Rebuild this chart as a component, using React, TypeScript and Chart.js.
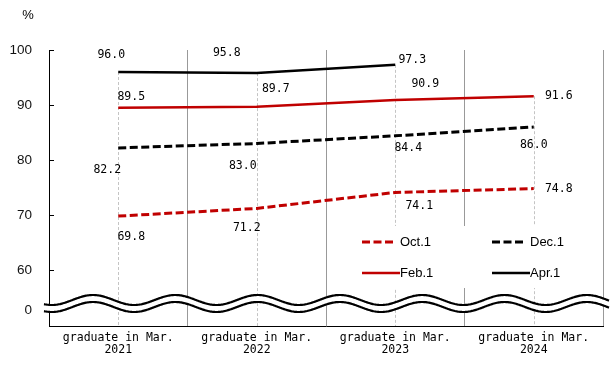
import React, { useEffect, useRef } from 'react';
import { Chart, registerables } from 'chart.js';

Chart.register(...registerables);

// ---- data ----
const categories: string[][] = [
  ['graduate in Mar.', '2021'],
  ['graduate in Mar.', '2022'],
  ['graduate in Mar.', '2023'],
  ['graduate in Mar.', '2024'],
];
const seriesNames = ['Oct.1', 'Dec.1', 'Feb.1', 'Apr.1'];
const oct1 = [69.8, 71.2, 74.1, 74.8];
const dec1 = [82.2, 83.0, 84.4, 86.0];
const feb1 = [89.5, 89.7, 90.9, 91.6];
const apr1: (number | null)[] = [96.0, 95.8, 97.3, null];

// broken axis: the "0" tick sits below the break
const yTickValues = [52.73, 60, 70, 80, 90, 100];
const yTickLabels = ['0', '60', '70', '80', '90', '100'];
const yMin = 49.82;
const yMax = 100;

// ---- styles / label placement ----
const RED = '#c00000';
const BLACK = '#000000';
const labelOffsets: ([number, number] | null)[][] = [
  [[13, 21], [-10, 20], [24, 14], [25, 0]],
  [[-11, 22], [-14, 23], [13, 12], [0, 18]],
  [[13, -11], [19, -18], [30, -16], [25, 0]],
  [[-7, -17], [-30, -20], [17, -5], null],
];
const MONO = '"DejaVu Sans Mono", monospace';
const SANS = '"Liberation Sans", Arial, sans-serif';

const decorPlugin = {
  id: 'decor',
  beforeDatasetsDraw(chart: any) {
    const { ctx, chartArea, scales } = chart;
    const x = scales.x;
    const y = scales.y;
    ctx.save();
    // drop lines from highest point of each category
    ctx.strokeStyle = '#c4c4c4';
    ctx.lineWidth = 1;
    ctx.setLineDash([3, 2]);
    categories.forEach((_, i) => {
      let maxV = -Infinity;
      chart.data.datasets.forEach((ds: any) => {
        const v = ds.data[i];
        if (v != null && v > maxV) maxV = v;
      });
      if (maxV === -Infinity) return;
      const px = Math.round(x.getPixelForValue(i)) + 0.5;
      ctx.beginPath();
      ctx.moveTo(px, y.getPixelForValue(maxV));
      ctx.lineTo(px, chartArea.bottom);
      ctx.stroke();
    });
    ctx.setLineDash([]);
    // inward tick marks
    ctx.strokeStyle = BLACK;
    y.ticks.forEach((t: any) => {
      const py = Math.round(y.getPixelForValue(t.value)) + 0.5;
      ctx.beginPath();
      ctx.moveTo(chartArea.left, py);
      ctx.lineTo(chartArea.left + 5, py);
      ctx.stroke();
    });
    ctx.restore();
  },
  afterDatasetsDraw(chart: any) {
    const { ctx, chartArea, scales } = chart;
    const y = scales.y;
    ctx.save();

    // data labels
    ctx.font = `11.5px ${MONO}`;
    ctx.fillStyle = BLACK;
    ctx.textAlign = 'center';
    ctx.textBaseline = 'middle';
    chart.data.datasets.forEach((ds: any, i: number) => {
      const meta = chart.getDatasetMeta(i);
      ds.data.forEach((v: number | null, j: number) => {
        const off = labelOffsets[i][j];
        if (v == null || !off) return;
        const pt = meta.data[j];
        ctx.fillText(v.toFixed(1), pt.x + off[0], pt.y + off[1]);
      });
    });

    // axis break wave
    const y0 = y.getPixelForValue(yTickValues[0]);
    const centers = [y0 - 10, y0 - 3];
    const x0 = chartArea.left - 5;
    const x1 = chartArea.right + 6;
    const period = 82.3;
    const amp = 5;
    const phase = chartArea.left + 44;
    const wy = (c: number, xx: number) => c - amp * Math.cos((2 * Math.PI * (xx - phase)) / period);
    ctx.beginPath();
    for (let xx = x0; xx <= x1; xx += 1) {
      if (xx === x0) ctx.moveTo(xx, wy(centers[0], xx));
      else ctx.lineTo(xx, wy(centers[0], xx));
    }
    for (let xx = x1; xx >= x0; xx -= 1) ctx.lineTo(xx, wy(centers[1], xx));
    ctx.closePath();
    ctx.fillStyle = '#ffffff';
    ctx.fill();
    ctx.strokeStyle = BLACK;
    ctx.lineWidth = 2.2;
    centers.forEach((c) => {
      ctx.beginPath();
      for (let xx = x0; xx <= x1; xx += 1) {
        if (xx === x0) ctx.moveTo(xx, wy(c, xx));
        else ctx.lineTo(xx, wy(c, xx));
      }
      ctx.stroke();
    });

    // legend (2 x 2, inside plot)
    ctx.fillStyle = '#ffffff';
    ctx.fillRect(352, 226, 220, 62);
    ctx.font = `13px ${SANS}`;
    ctx.textAlign = 'left';
    ctx.textBaseline = 'middle';
    chart.data.datasets.forEach((ds: any, i: number) => {
      const col = i % 2;
      const row = Math.floor(i / 2);
      const sx = 362 + col * 130;
      const sy = 242 + row * 31;
      const dashed = ds.borderDash && ds.borderDash.length;
      ctx.strokeStyle = ds.borderColor;
      ctx.lineWidth = ds.borderWidth;
      ctx.setLineDash(dashed ? ds.borderDash : []);
      ctx.beginPath();
      ctx.moveTo(sx, sy);
      ctx.lineTo(sx + (dashed ? 31 : 38), sy);
      ctx.stroke();
      ctx.setLineDash([]);
      ctx.fillStyle = BLACK;
      ctx.fillText(ds.label, sx + 38, sy);
    });

    // unit
    ctx.font = `13px ${SANS}`;
    ctx.textAlign = 'center';
    ctx.fillText('%', 28, 15);
    ctx.restore();
  },
};

export default function App() {
  const ref = useRef<HTMLCanvasElement>(null);
  useEffect(() => {
    const mk = (i: number, data: (number | null)[], color: string, dashed: boolean) => ({
      label: seriesNames[i],
      data,
      borderColor: color,
      backgroundColor: color,
      borderWidth: dashed ? 3 : 2.5,
      borderDash: dashed ? [8, 3.5] : [],
      pointRadius: 0,
      tension: 0,
      fill: false,
      spanGaps: false,
    });
    const chart = new Chart(ref.current!, {
      type: 'line',
      data: {
        labels: categories,
        datasets: [
          mk(0, oct1, RED, true),
          mk(1, dec1, BLACK, true),
          mk(2, feb1, RED, false),
          mk(3, apr1, BLACK, false),
        ],
      },
      options: {
        responsive: false,
        animation: false,
        devicePixelRatio: 1,
        layout: { padding: { top: 50, right: 11, left: 0, bottom: 0 } },
        plugins: {
          legend: { display: false },
          tooltip: { enabled: false },
        },
        scales: {
          x: {
            type: 'category',
            offset: true,
            grid: { offset: true, color: '#999999', lineWidth: 1, drawTicks: false },
            border: { display: true, color: BLACK, width: 1 },
            ticks: {
              color: BLACK,
              font: { family: MONO, size: 11.5, lineHeight: 1.05 },
              padding: 6,
              maxRotation: 0,
              autoSkip: false,
            },
            afterFit: (s: any) => {
              s.height = 42;
            },
          },
          y: {
            type: 'linear',
            min: yMin,
            max: yMax,
            afterBuildTicks: (s: any) => {
              s.ticks = yTickValues.map((v) => ({ value: v }));
            },
            grid: { drawOnChartArea: false, drawTicks: false },
            border: { display: true, color: BLACK, width: 1 },
            ticks: {
              color: '#111',
              font: { family: SANS, size: 13.5 },
              padding: 17,
              callback: (_v: any, idx: number) => yTickLabels[idx],
            },
            afterFit: (s: any) => {
              s.width = 49;
            },
          },
        },
      },
      plugins: [decorPlugin],
    } as any);
    return () => chart.destroy();
  }, []);
  return (
    <div style={{ position: 'absolute', left: 0, top: 0, width: 614, height: 368, background: '#fff' }}>
      <canvas ref={ref} width={614} height={368} style={{ display: 'block', width: 614, height: 368 }} />
    </div>
  );
}
